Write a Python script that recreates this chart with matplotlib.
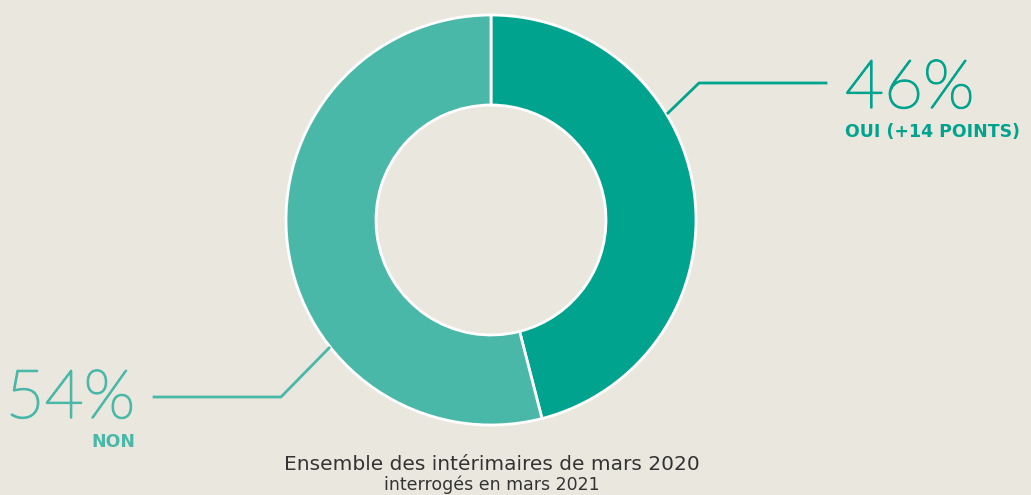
import matplotlib.pyplot as plt
import matplotlib.patheffects as pe

labels = ["OUI (+14 POINTS)", "NON"]
values = [46, 54]
pct_labels = ["46%", "54%"]
colors = ["#00A38E", "#4AB8A8"]
title = "Ensemble des intérimaires de mars 2020"
subtitle = "interrogés en mars 2021"

W, H = 1031, 495
bg = "#EAE7DF"

fig = plt.figure(figsize=(W / 100, H / 100), dpi=100, facecolor=bg)
ax = fig.add_axes([0, 0, 1, 1])
ax.set_facecolor(bg)

# donut (pixel coords, y measured from bottom)
cx, cy, r = 491, H - 220, 205
ax.pie(values, colors=colors, startangle=90, counterclock=False,
       center=(cx, cy), radius=r, frame=True,
       wedgeprops=dict(width=90, edgecolor="white", linewidth=2))
ax.set_xlim(0, W)
ax.set_ylim(0, H)
ax.set_aspect("equal")
ax.axis("off")

# leader lines
ax.plot([668, 699, 826], [H - 113, H - 83, H - 83], color=colors[0], lw=2)
ax.plot([329, 281, 154], [H - 348, H - 397, H - 397], color=colors[1], lw=2)

# labels (thin Lato, thickened a little with a stroke)
t = ax.text(845, H - 90, pct_labels[0], color=colors[0], fontsize=48.5,
            family="Lato", weight="light", va="center", ha="left")
t.set_path_effects([pe.withStroke(linewidth=1.3, foreground=colors[0])])
ax.text(845, H - 132, labels[0], color=colors[0], fontsize=12.5,
        family="DejaVu Sans", weight="bold", va="center", ha="left")
t = ax.text(135, H - 400, pct_labels[1], color=colors[1], fontsize=48.5,
            family="Lato", weight="light", va="center", ha="right")
t.set_path_effects([pe.withStroke(linewidth=1.3, foreground=colors[1])])
ax.text(135, H - 442, labels[1], color=colors[1], fontsize=12.5,
        family="DejaVu Sans", weight="bold", va="center", ha="right")

ax.text(cx + 1, H - 464, title, color="#333333", fontsize=14.5,
        family="DejaVu Sans", va="center", ha="center")
ax.text(cx + 1, H - 485, subtitle, color="#333333", fontsize=12.5,
        family="DejaVu Sans", va="center", ha="center")

fig.savefig("out.png", dpi=100, facecolor=bg)
